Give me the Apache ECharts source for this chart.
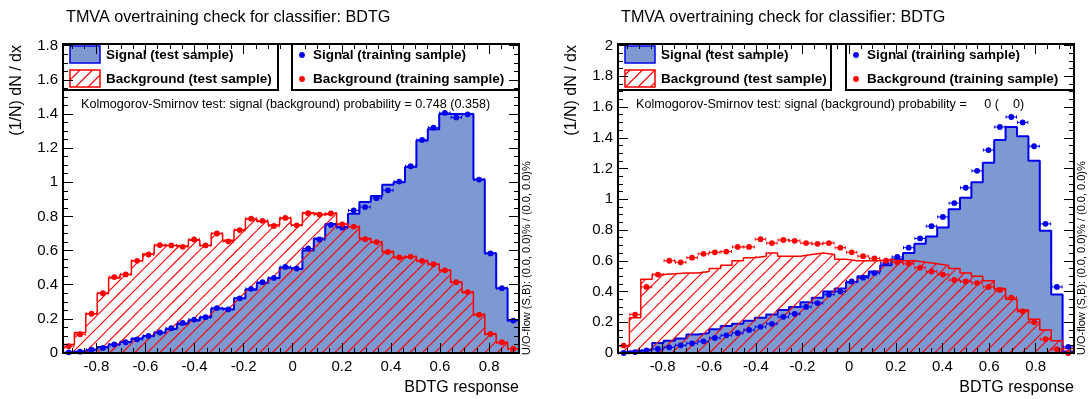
<!DOCTYPE html>
<html><head><meta charset="utf-8">
<script src="https://cdn.jsdelivr.net/npm/echarts@6/dist/echarts.min.js"></script>
<style>html,body{margin:0;padding:0;background:#fff}#c{width:1091px;height:399px}</style>
</head><body><div id="c"></div>
<script>
// ---------------- data ----------------
const nBins = 40;
const leftRange = [-0.936, 0.922];
const rightRange = [-0.991, 0.964];
const leftYMax = 1.81;
const rightYMax = 2.01;
const xTickLabels = [-0.8, -0.6, -0.4, -0.2, 0, 0.2, 0.4, 0.6, 0.8];
const leftYTicks = [0, 0.2, 0.4, 0.6, 0.8, 1, 1.2, 1.4, 1.6, 1.8];
const rightYTicks = [0, 0.2, 0.4, 0.6, 0.8, 1, 1.2, 1.4, 1.6, 1.8, 2];

const leftSigTest  = [0.008,0.012,0.022,0.035,0.05,0.065,0.085,0.10,0.12,0.14,0.17,0.19,0.21,0.26,0.255,0.32,0.37,0.41,0.44,0.50,0.49,0.60,0.67,0.755,0.74,0.815,0.885,0.92,0.985,1.0,1.09,1.245,1.31,1.40,1.40,1.40,1.016,0.585,0.38,0.19];
const leftSigTrain = [0.004,0.008,0.02,0.03,0.05,0.063,0.08,0.10,0.12,0.145,0.176,0.196,0.21,0.263,0.255,0.32,0.376,0.415,0.44,0.504,0.495,0.612,0.665,0.75,0.734,0.835,0.855,0.907,0.953,1.004,1.094,1.248,1.32,1.406,1.38,1.398,1.016,0.583,0.38,0.19];
const leftBkgTest  = [0.05,0.12,0.23,0.35,0.44,0.46,0.54,0.58,0.63,0.63,0.625,0.66,0.63,0.70,0.66,0.72,0.785,0.77,0.75,0.79,0.75,0.82,0.81,0.82,0.755,0.74,0.67,0.65,0.595,0.56,0.565,0.54,0.52,0.485,0.415,0.355,0.225,0.11,0.06,0.025];
const leftBkgTrain = [0.04,0.11,0.23,0.35,0.445,0.46,0.54,0.577,0.632,0.630,0.622,0.665,0.630,0.70,0.654,0.72,0.787,0.774,0.744,0.791,0.748,0.819,0.811,0.817,0.754,0.74,0.667,0.65,0.592,0.56,0.565,0.54,0.52,0.484,0.415,0.357,0.224,0.112,0.063,0.025];

const rightSigTest  = [0.01,0.015,0.025,0.065,0.08,0.095,0.12,0.13,0.155,0.175,0.19,0.21,0.23,0.25,0.28,0.30,0.33,0.36,0.40,0.42,0.46,0.50,0.53,0.57,0.61,0.65,0.71,0.758,0.816,0.935,1.01,1.11,1.237,1.385,1.47,1.41,1.25,0.795,0.38,0.01];
const rightSigTrain = [0.0,0.006,0.017,0.026,0.037,0.05,0.063,0.076,0.098,0.115,0.13,0.15,0.17,0.19,0.235,0.255,0.30,0.325,0.38,0.40,0.465,0.49,0.52,0.585,0.625,0.685,0.745,0.825,0.885,0.975,1.075,1.185,1.32,1.47,1.535,1.50,1.345,0.84,0.43,0.04];
const rightBkgTest  = [0.045,0.23,0.48,0.51,0.515,0.52,0.52,0.53,0.55,0.57,0.60,0.62,0.63,0.65,0.63,0.63,0.64,0.65,0.64,0.61,0.60,0.60,0.60,0.61,0.60,0.60,0.59,0.58,0.57,0.55,0.52,0.50,0.47,0.42,0.35,0.28,0.22,0.15,0.08,0.03];
const rightBkgTrain = [0.048,0.25,0.43,0.51,0.60,0.59,0.62,0.645,0.655,0.66,0.69,0.69,0.74,0.715,0.735,0.73,0.715,0.71,0.715,0.685,0.655,0.63,0.615,0.60,0.59,0.58,0.555,0.53,0.51,0.475,0.465,0.455,0.43,0.41,0.36,0.27,0.20,0.09,0.025,0.0];

const titleText = 'TMVA overtraining check for classifier: BDTG';
const yTitle = '(1/N) dN / dx';
const xTitle = 'BDTG response';
const ksLeft = 'Kolmogorov-Smirnov test: signal (background) probability = 0.748 (0.358)';
const ksRight = 'Kolmogorov-Smirnov test: signal (background) probability =     0 (    0)';
const uoText = 'U/O-flow (S,B): (0.0, 0.0)% / (0.0, 0.0)%';
const legendLabels = ['Signal (test sample)', 'Background (test sample)', 'Signal (training sample)', 'Background (training sample)'];

// ---------------- style ----------------
const FONT = '"Liberation Sans", Arial, Helvetica, sans-serif';
const SIG_FILL = '#7d99d1', SIG_LINE = '#0000ee', BKG = '#ff0000';
const HATCH_STEP = 12.5;   // horizontal spacing of hatch lines (px)
const HATCH_SLOPE = 1.0;   // tan(angle)

// hatch segments for a pixel rectangle, lines  slope*x + y = c
function hatchSegs(x0, x1, y0, y1) {
  const t = HATCH_SLOPE, p = HATCH_STEP * t, out = [];
  const cmin = t * x0 + y0, cmax = t * x1 + y1;
  for (let k = Math.ceil(cmin / p); k * p <= cmax; k++) {
    const c = k * p;
    const xa = Math.max(x0, (c - y1) / t), xb = Math.min(x1, (c - y0) / t);
    if (xb - xa > 0.2) out.push([xa, c - t * xa, xb, c - t * xb]);
  }
  return out;
}

function histData(vals, range) {
  const w = (range[1] - range[0]) / nBins;
  const d = [[range[0], 0]];
  vals.forEach((v, i) => d.push([range[0] + i * w, v]));
  d.push([range[1], vals[vals.length - 1]]);
  d.push([range[1], 0]);
  return d;
}
function binData(vals, range) {
  const w = (range[1] - range[0]) / nBins;
  return vals.map((v, i) => [range[0] + i * w, range[0] + (i + 1) * w, v]);
}
function pointsSeries(vals, range, color, axisIdx, z) {
  return {
    type: 'custom', xAxisIndex: axisIdx, yAxisIndex: axisIdx, z: z, clip: false, silent: true,
    data: binData(vals, range),
    renderItem: function (params, api) {
      const l = api.coord([api.value(0), api.value(2)]);
      const r = api.coord([api.value(1), api.value(2)]);
      const cx = (l[0] + r[0]) / 2, cy = l[1];
      return { type: 'group', children: [
        { type: 'line', shape: { x1: l[0] + 0.5, y1: cy, x2: r[0] - 0.5, y2: cy }, style: { stroke: color, lineWidth: 1 } },
        { type: 'line', shape: { x1: l[0] + 0.5, y1: cy - 1.5, x2: l[0] + 0.5, y2: cy + 1.5 }, style: { stroke: color, lineWidth: 1 } },
        { type: 'line', shape: { x1: r[0] - 0.5, y1: cy - 1.5, x2: r[0] - 0.5, y2: cy + 1.5 }, style: { stroke: color, lineWidth: 1 } },
        { type: 'circle', shape: { cx: cx, cy: cy, r: 2.9 }, style: { fill: color } }
      ]};
    }
  };
}
function histSeries(vals, range, axisIdx, isSig, z) {
  const s = {
    type: 'line', step: 'end', xAxisIndex: axisIdx, yAxisIndex: axisIdx, z: z,
    data: histData(vals, range), showSymbol: false, symbol: 'none', silent: true,
    lineStyle: { color: isSig ? SIG_LINE : BKG, width: isSig ? 2 : 1.5 }
  };
  if (isSig) s.areaStyle = { color: SIG_FILL, opacity: 1, origin: 'start' };
  return s;
}
function hatchSeries(vals, range, axisIdx, z) {
  return {
    type: 'custom', xAxisIndex: axisIdx, yAxisIndex: axisIdx, z: z, silent: true,
    data: binData(vals, range),
    renderItem: function (params, api) {
      const a = api.coord([api.value(0), api.value(2)]);
      const b = api.coord([api.value(1), 0]);
      const segs = hatchSegs(a[0], b[0], a[1], b[1]);
      return { type: 'group', children: segs.map(s => ({
        type: 'line', shape: { x1: s[0], y1: s[1], x2: s[2], y2: s[3] }, style: { stroke: BKG, lineWidth: 1.1 }
      })) };
    }
  };
}

// ---------------- axes ----------------
const grids = [
  { left: 63, top: 44, width: 456, height: 309 },
  { left: 618, top: 44, width: 456, height: 309 }
];
const ranges = [leftRange, rightRange];
const yMaxes = [leftYMax, rightYMax];
const yTicks = [leftYTicks, rightYTicks];

function minorVals(lo, hi, step, majorStep) {
  const out = [];
  const start = Math.ceil(lo / step - 1e-9);
  for (let k = start; k * step <= hi + 1e-9; k++) {
    const v = +(k * step).toFixed(4);
    if (Math.abs(v / majorStep - Math.round(v / majorStep)) > 1e-6) out.push(v);
  }
  return out;
}
const fmt = v => String(+(+v).toFixed(2));
const noLine = { show: false, onZero: false };
const blackLine = { show: true, onZero: false, lineStyle: { color: '#000', width: 2 } };
const tick = (vals, len) => ({ show: true, inside: true, length: len, customValues: vals, lineStyle: { color: '#000', width: 1 } });

const xAxes = [], yAxes = [];
[0, 1].forEach(g => {
  const r = ranges[g];
  const base = { type: 'value', gridIndex: g, min: r[0], max: r[1], z: 10, splitLine: { show: false } };
  const xmin = minorVals(r[0], r[1], 0.05, 0.2);
  xAxes.push(Object.assign({}, base, { position: 'bottom', axisLine: blackLine, axisTick: tick(xTickLabels, 10),
    axisLabel: { show: true, customValues: xTickLabels, formatter: fmt, fontFamily: FONT, fontSize: 15, color: '#000', margin: 6 } }));
  xAxes.push(Object.assign({}, base, { position: 'bottom', axisLine: noLine, axisTick: tick(xmin, 5), axisLabel: { show: false } }));
  xAxes.push(Object.assign({}, base, { position: 'top', axisLine: blackLine, axisTick: tick(xTickLabels, 10), axisLabel: { show: false } }));
  xAxes.push(Object.assign({}, base, { position: 'top', axisLine: noLine, axisTick: tick(xmin, 5), axisLabel: { show: false } }));
  const ybase = { type: 'value', gridIndex: g, min: 0, max: yMaxes[g], z: 10, splitLine: { show: false } };
  const ymin = minorVals(0, yMaxes[g], 0.05, 0.2);
  yAxes.push(Object.assign({}, ybase, { position: 'left', axisLine: blackLine, axisTick: tick(yTicks[g], 10),
    axisLabel: { show: true, customValues: yTicks[g], formatter: fmt, fontFamily: FONT, fontSize: 15, color: '#000', margin: 5 } }));
  yAxes.push(Object.assign({}, ybase, { position: 'left', axisLine: noLine, axisTick: tick(ymin, 5), axisLabel: { show: false } }));
  yAxes.push(Object.assign({}, ybase, { position: 'right', axisLine: blackLine, axisTick: tick(yTicks[g], 10), axisLabel: { show: false } }));
  yAxes.push(Object.assign({}, ybase, { position: 'right', axisLine: noLine, axisTick: tick(ymin, 5), axisLabel: { show: false } }));
});
const series = [
  histSeries(leftSigTest, leftRange, 0, true, 2),
  hatchSeries(leftBkgTest, leftRange, 0, 3),
  histSeries(leftBkgTest, leftRange, 0, false, 3),
  pointsSeries(leftSigTrain, leftRange, SIG_LINE, 0, 4),
  pointsSeries(leftBkgTrain, leftRange, BKG, 0, 5),
  histSeries(rightSigTest, rightRange, 4, true, 2),
  hatchSeries(rightBkgTest, rightRange, 4, 3),
  histSeries(rightBkgTest, rightRange, 4, false, 3),
  pointsSeries(rightSigTrain, rightRange, SIG_LINE, 4, 4),
  pointsSeries(rightBkgTrain, rightRange, BKG, 4, 5)
];

// ---------------- texts & legends ----------------
const graphics = [];
function txt(x, y, text, size, opts) {
  graphics.push(Object.assign({
    type: 'text', x: x, y: y, z: 30,
    style: { text: text, font: (opts && opts.bold ? 'bold ' : '') + size + 'px ' + FONT, fill: '#000',
      textAlign: (opts && opts.align) || 'left', textVerticalAlign: 'middle' }
  }, opts && opts.rotation ? { rotation: opts.rotation } : {}));
}
[0, 1].forEach(g => {
  const L = grids[g].left, R = L + grids[g].width, T = grids[g].top, B = T + grids[g].height;
  txt(L + 3, 18, titleText, 16.2);
  txt(L - 46, T + 1, yTitle, 16, { align: 'right', rotation: Math.PI / 2 });
  txt(R, 388, xTitle, 16, { align: 'right' });
  txt(R + 8, B + 2, uoText, 11, { rotation: Math.PI / 2 });
  txt(L + 18, 105, g === 0 ? ksLeft : ksRight, 12.6);
  const b1r = g === 0 ? 278 - 63 : 831 - 618;
  const b2l = g === 0 ? 292 - 63 : 846 - 618;
  graphics.push({ type: 'rect', z: 6, shape: { x: L, y: T, width: b1r, height: 46 }, style: { fill: '#fff', stroke: '#000', lineWidth: 2 } });
  graphics.push({ type: 'rect', z: 6, shape: { x: L + b2l, y: T, width: R - L - b2l, height: 46 }, style: { fill: '#fff', stroke: '#000', lineWidth: 2 } });
  graphics.push({ type: 'rect', z: 7, shape: { x: L + 7, y: T + 2, width: 30, height: 17 }, style: { fill: SIG_FILL, stroke: SIG_LINE, lineWidth: 1.5 } });
  hatchSegs(L + 7, L + 37, T + 26, T + 43).forEach(s => graphics.push({ type: 'line', z: 7,
    shape: { x1: s[0], y1: s[1], x2: s[2], y2: s[3] }, style: { stroke: BKG, lineWidth: 1.1 } }));
  graphics.push({ type: 'rect', z: 8, shape: { x: L + 7, y: T + 26, width: 30, height: 17 }, style: { fill: 'none', stroke: BKG, lineWidth: 1.5 } });
  txt(L + 43, T + 11, legendLabels[0], 13.5, { bold: true });
  txt(L + 43, T + 35, legendLabels[1], 13.5, { bold: true });
  graphics.push({ type: 'circle', z: 7, shape: { cx: L + b2l + 10, cy: T + 11, r: 2.9 }, style: { fill: SIG_LINE } });
  graphics.push({ type: 'circle', z: 7, shape: { cx: L + b2l + 10, cy: T + 35, r: 2.9 }, style: { fill: BKG } });
  txt(L + b2l + 21, T + 11, legendLabels[2], 13.5, { bold: true });
  txt(L + b2l + 21, T + 35, legendLabels[3], 13.5, { bold: true });
});

const chart = echarts.init(document.getElementById('c'), null, { renderer: 'canvas' });
chart.setOption({
  animation: false,
  backgroundColor: '#fff',
  grid: grids,
  xAxis: xAxes,
  yAxis: yAxes,
  series: series,
  graphic: { elements: graphics }
});
</script></body></html>
